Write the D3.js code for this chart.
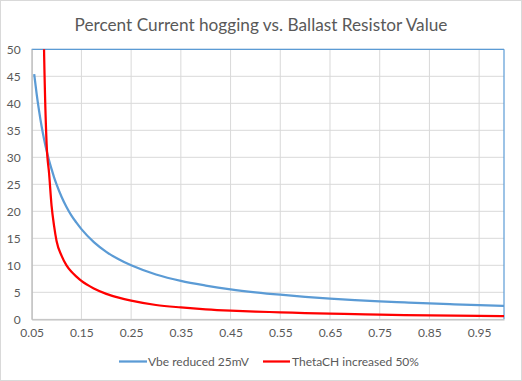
<!DOCTYPE html>
<html><head><meta charset="utf-8">
<script src="https://cdn.jsdelivr.net/npm/d3@7"></script>
<style>
html,body{margin:0;padding:0;background:#fff;}
svg{display:block;}
text{font-family:"Lato","Open Sans",sans-serif;fill:#595959;}
</style></head>
<body><svg id="c" width="522" height="381"></svg>
<script>
const title = "Percent Current hogging vs. Ballast Resistor Value";
const seriesNames = ["Vbe reduced 25mV", "ThetaCH increased 50%"];
const xValues = [0.055,0.06,0.065,0.07,0.075,0.08,0.085,0.09,0.095,0.1,0.11,0.12,0.13,0.14,0.15,0.175,0.2,0.225,0.25,0.3,0.35,0.4,0.45,0.5,0.55,0.6,0.65,0.7,0.75,0.8,0.85,0.9,0.95,1.0];
const vbeValues = [45.4,41.7,38.5,35.7,33.3,31.2,29.4,27.8,26.3,25.0,22.7,20.8,19.2,17.9,16.7,14.3,12.5,11.1,10.0,8.3,7.1,6.25,5.55,5.0,4.55,4.17,3.85,3.57,3.33,3.13,2.94,2.78,2.63,2.5];
const thetaValues = [null,null,null,80,49,32.5,27,21,17.3,14.5,11.8,10.0,8.8,7.9,7.1,5.7,4.7,4.0,3.45,2.65,2.2,1.85,1.6,1.42,1.3,1.15,1.04,0.95,0.85,0.78,0.72,0.67,0.63,0.6];
const xTicks = [0.05,0.15,0.25,0.35,0.45,0.55,0.65,0.75,0.85,0.95];
const yTicks = [0,5,10,15,20,25,30,35,40,45,50];
const colors = ["#5B9BD5","#FF0000"];

const svg = d3.select("#c");
const W=522,H=381;
const m={l:31.7,r:504,t:49.3,b:319.3};
svg.append("rect").attr("x",0.5).attr("y",0.5).attr("width",W-1).attr("height",H-1)
  .attr("fill","#fff").attr("stroke","#D9D9D9");

const x = d3.scaleLinear().domain([0.05,1.0]).range([m.l,m.r]);
const y = d3.scaleLinear().domain([0,50]).range([m.b,m.t]);

// gridlines
const g = svg.append("g");
g.selectAll(".hg").data(yTicks).join("line")
  .attr("x1",m.l).attr("x2",m.r).attr("y1",d=>y(d)).attr("y2",d=>y(d))
  .attr("stroke","#D9D9D9").attr("stroke-width",1);
g.selectAll(".vg").data(xTicks).join("line")
  .attr("y1",m.t).attr("y2",m.b).attr("x1",d=>x(d)).attr("x2",d=>x(d))
  .attr("stroke","#D9D9D9").attr("stroke-width",1);

// plot border (top/right blue)
svg.append("line").attr("x1",m.l).attr("x2",m.r).attr("y1",m.t).attr("y2",m.t).attr("stroke","#5B9BD5").attr("stroke-width",1.2);
svg.append("line").attr("x1",m.r).attr("x2",m.r).attr("y1",m.t).attr("y2",m.b).attr("stroke","#5B9BD5").attr("stroke-width",1.2);

// axes
const yAxis = d3.axisLeft(y).tickValues(yTicks).tickSize(0).tickPadding(11);
const xAxis = d3.axisBottom(x).tickValues(xTicks).tickSize(0).tickPadding(9).tickFormat(d3.format(".2f"));
const ya = svg.append("g").attr("transform",`translate(${m.l},0)`).call(yAxis);
const xa = svg.append("g").attr("transform",`translate(0,${m.b})`).call(xAxis);
[ya,xa].forEach(a=>{
  a.select(".domain").attr("stroke","#BFBFBF").attr("stroke-width",1.3);
  a.selectAll("text").style("font-size","12px").style("fill","#595959").style("font-family","Lato, 'Open Sans', sans-serif");
});

// clip
svg.append("clipPath").attr("id","clip").append("rect")
  .attr("x",m.l).attr("y",m.t).attr("width",m.r-m.l).attr("height",m.b-m.t);

const series=[vbeValues,thetaValues];
const line = d3.line().defined(d=>d[1]!=null).x(d=>x(d[0])).y(d=>y(d[1])).curve(d3.curveMonotoneX);
series.forEach((vals,i)=>{
  const pts = xValues.map((xv,j)=>[xv,vals[j]]);
  svg.append("path").attr("d",line(pts)).attr("fill","none")
    .attr("stroke",colors[i]).attr("stroke-width",2.25).attr("stroke-linejoin","round")
    .attr("clip-path","url(#clip)");
});

// title
const t = svg.append("text").attr("x",261).attr("y",31).attr("text-anchor","middle")
  .style("font-size","18.7px").text(title);
const tw = t.node().getComputedTextLength();
t.style("font-size",(18.7*373/tw)+"px");

// legend
const leg = [{x1:119,x2:147,tx:148},{x1:263,x2:290,tx:292}];
leg.forEach((L,i)=>{
  svg.append("line").attr("x1",L.x1).attr("x2",L.x2).attr("y1",361.5).attr("y2",361.5)
    .attr("stroke",colors[i]).attr("stroke-width",2.25);
  svg.append("text").attr("x",L.tx).attr("y",365.5).style("font-size","12px").text(seriesNames[i]);
});
</script></body></html>
